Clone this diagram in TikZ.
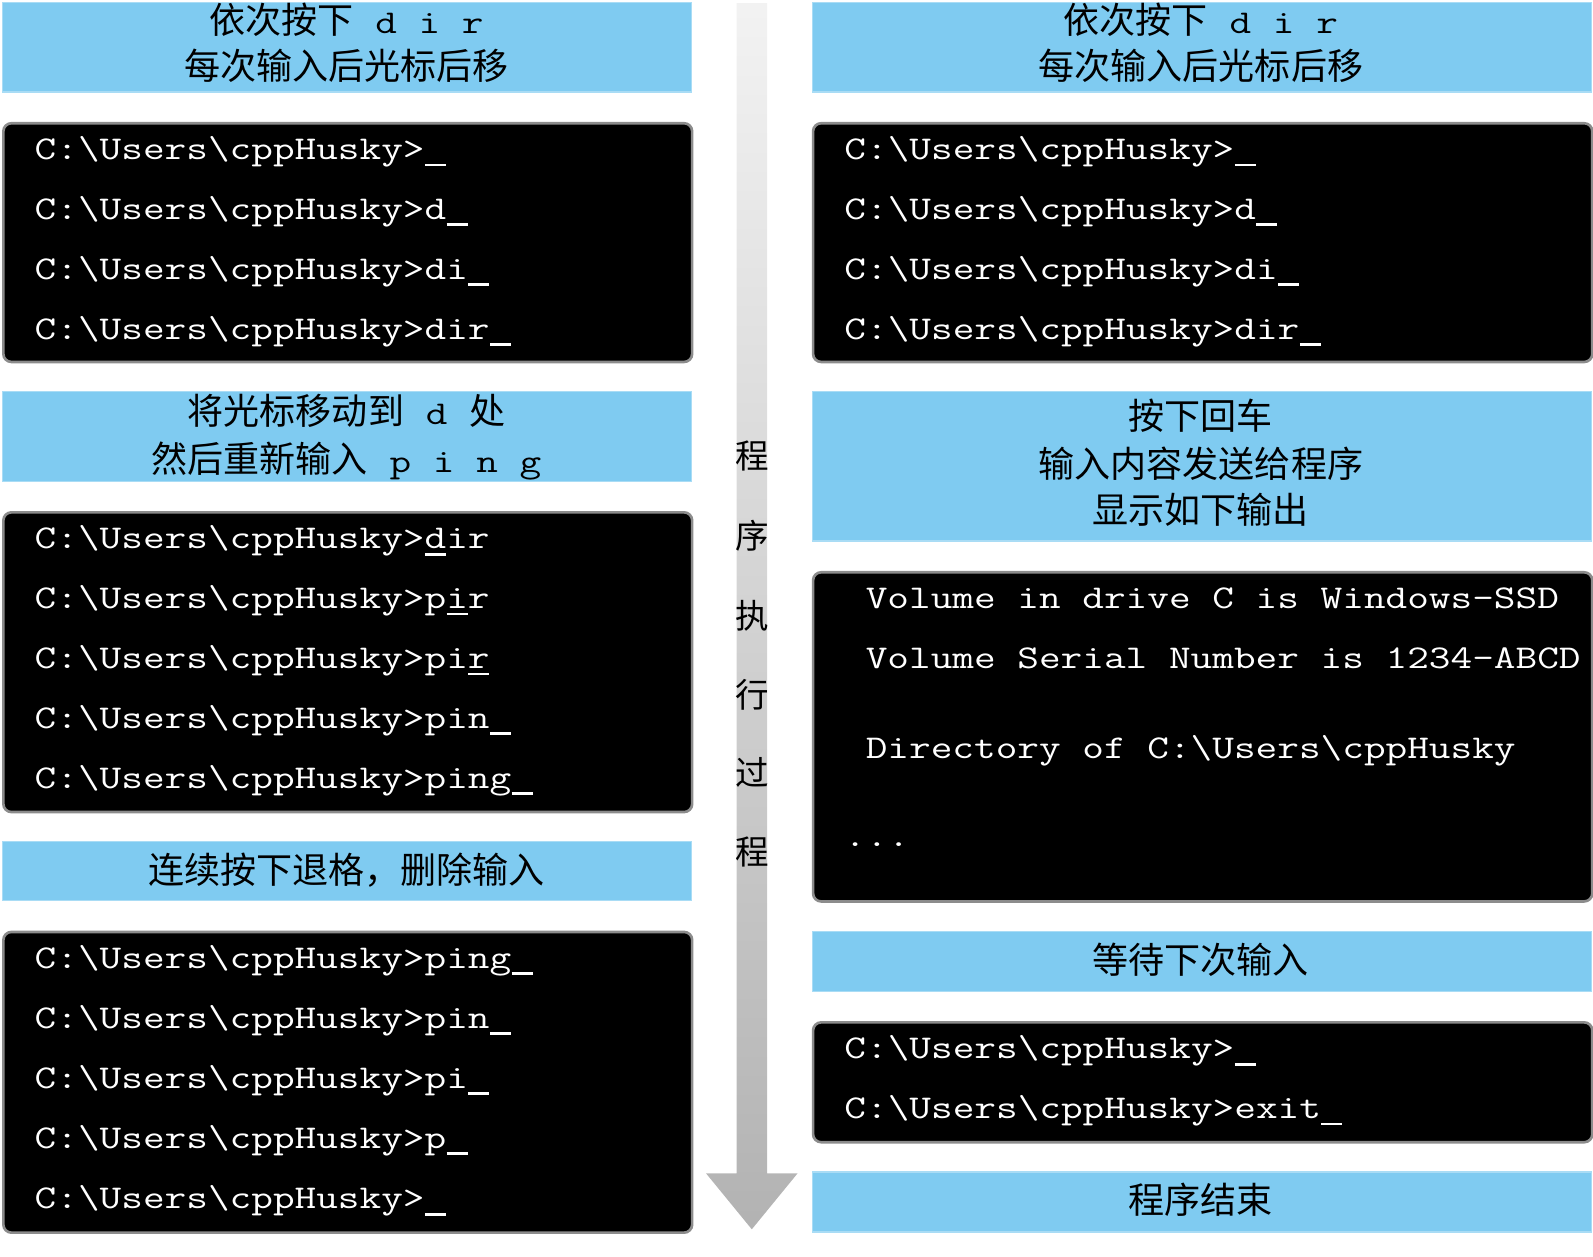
\documentclass[tikz,border=0pt]{standalone}
\usepackage{fontspec}
\usepackage{graphicx}
\newfontfamily\cjk{Noto Sans CJK SC}
\newcommand\term{\ttfamily\fontsize{41.4}{44}\selectfont}
\definecolor{skyb}{HTML}{7FCBF1}
\definecolor{skyedge}{HTML}{A9DCF5}
\definecolor{termedge}{HTML}{8C8C8C}
\newcommand\pr{C:\textbackslash Users\textbackslash cppHusky>}
\newcommand\cur{\makebox[21.3pt][c]{\rule[-8.6pt]{20.5pt}{3.6pt}}}
\newcommand\ulc[1]{\rlap{\cur}#1}
\newcommand\T[1]{\scalebox{1}[0.79]{#1}}
\begin{document}
\begin{tikzpicture}[x=1pt,y=-1pt,
 bluebox/.style={draw=skyedge, line width=1.2pt, fill=skyb, inner sep=0pt, anchor=north west},
 termbox/.style={draw=termedge, line width=2.6pt, fill=black, rounded corners=8pt, inner sep=0pt, anchor=north west},
 tline/.style={anchor=base west, text=white, inner sep=0pt, font=\term},
 capt/.style={anchor=base, inner sep=0pt, font=\cjk\fontsize{35.5}{40}\selectfont},
 vtext/.style={anchor=center, inner sep=0pt, font=\cjk\fontsize{33}{36}\selectfont},
]
\useasboundingbox (0,0) rectangle (1568,1237);

% arrow
\shade[top color=black!5, bottom color=black!30]
  (725,3) -- (755,3) -- (755,1155) -- (785,1155) -- (740,1210) -- (695,1155) -- (725,1155) -- cycle;
\node[vtext] (v1) at (740,449) {程};
\node[vtext] (v2) at (740,527) {序};
\node[vtext] (v3) at (740,606) {执};
\node[vtext] (v4) at (740,684) {行};
\node[vtext] (v5) at (740,760) {过};
\node[vtext] (v6) at (740,839) {程};

% left column
\node[bluebox, minimum width=678pt, minimum height=88pt] (LB1) at (2,2) {};
\node[capt] (LB1a) at (341,33) {依次按下{\term\T{~d~i~r}}};
\node[capt] (LB1b) at (341,78) {每次输入后光标后移};

\node[termbox, minimum width=678pt, minimum height=235pt] (LT1) at (2,120) {};
\node[tline] (LT1a) at (34,157) {\T{\pr\cur}};
\node[tline] (LT1b) at (34,216) {\T{\pr d\cur}};
\node[tline] (LT1c) at (34,275) {\T{\pr di\cur}};
\node[tline] (LT1d) at (34,334) {\T{\pr dir\cur}};

\node[bluebox, minimum width=678pt, minimum height=88pt] (LB2) at (2,385) {};
\node[capt] (LB2a) at (341,418) {将光标移动到{\term\T{~d~}}处};
\node[capt] (LB2b) at (341,465) {然后重新输入{\term\T{~p~i~n~g}}};

\node[termbox, minimum width=678pt, minimum height=295pt] (LT2) at (2,503) {};
\node[tline] (LT2a) at (34,540) {\T{\pr\ulc{d}ir}};
\node[tline] (LT2b) at (34,599) {\T{\pr p\ulc{i}r}};
\node[tline] (LT2c) at (34,658) {\T{\pr pi\ulc{r}}};
\node[tline] (LT2d) at (34,717) {\T{\pr pin\cur}};
\node[tline] (LT2e) at (34,776) {\T{\pr ping\cur}};

\node[bluebox, minimum width=678pt, minimum height=58pt] (LB3) at (2,828) {};
\node[capt] (LB3a) at (341,870) {连续按下退格，删除输入};

\node[termbox, minimum width=678pt, minimum height=296pt] (LT3) at (2,916) {};
\node[tline] (LT3a) at (34,953) {\T{\pr ping\cur}};
\node[tline] (LT3b) at (34,1012) {\T{\pr pin\cur}};
\node[tline] (LT3c) at (34,1071) {\T{\pr pi\cur}};
\node[tline] (LT3d) at (34,1130) {\T{\pr p\cur}};
\node[tline] (LT3e) at (34,1190) {\T{\pr\cur}};

% right column
\node[bluebox, minimum width=767pt, minimum height=88pt] (RB1) at (799,2) {};
\node[capt] (RB1a) at (1182,33) {依次按下{\term\T{~d~i~r}}};
\node[capt] (RB1b) at (1182,78) {每次输入后光标后移};

\node[termbox, minimum width=767pt, minimum height=235pt] (RT1) at (799,120) {};
\node[tline] (RT1a) at (831,157) {\T{\pr\cur}};
\node[tline] (RT1b) at (831,216) {\T{\pr d\cur}};
\node[tline] (RT1c) at (831,275) {\T{\pr di\cur}};
\node[tline] (RT1d) at (831,334) {\T{\pr dir\cur}};

\node[bluebox, minimum width=767pt, minimum height=147pt] (RB2) at (799,385) {};
\node[capt] (RB2a) at (1182,423) {按下回车};
\node[capt] (RB2b) at (1182,470) {输入内容发送给程序};
\node[capt] (RB2c) at (1182,515) {显示如下输出};

\node[termbox, minimum width=767pt, minimum height=324pt] (RT2) at (799,562) {};
\node[tline] (RT2a) at (852,599) {\T{Volume in drive C is Windows-SSD}};
\node[tline] (RT2b) at (852,658) {\T{Volume Serial Number is 1234-ABCD}};
\node[tline] (RT2c) at (852,747) {\T{Directory of C:\textbackslash Users\textbackslash cppHusky}};
\node[tline] (RT2d) at (831,833) {\T{...}};

\node[bluebox, minimum width=767pt, minimum height=59pt] (RB3) at (799,916) {};
\node[capt] (RB3a) at (1182,958) {等待下次输入};

\node[termbox, minimum width=767pt, minimum height=118pt] (RT3) at (799,1005) {};
\node[tline] (RT3a) at (831,1042) {\T{\pr\cur}};
\node[tline] (RT3b) at (831,1101) {\T{\pr exit\cur}};

\node[bluebox, minimum width=767pt, minimum height=59pt] (RB4) at (799,1153) {};
\node[capt] (RB4a) at (1182,1194) {程序结束};
\end{tikzpicture}
\end{document}
